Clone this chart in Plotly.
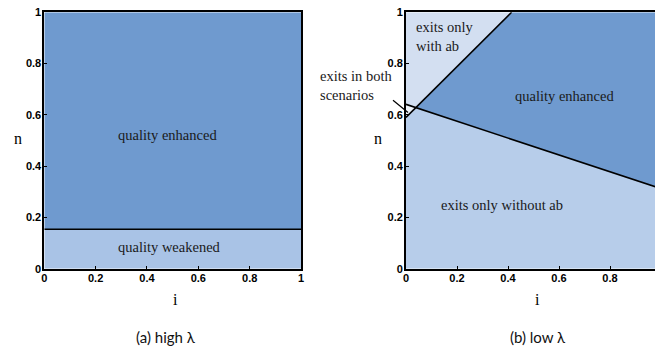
import numpy as np
import plotly.graph_objects as go

# ---- data ----
tick_vals = [0, 0.2, 0.4, 0.6, 0.8, 1]
tick_text = ["0", "0.2", "0.4", "0.6", "0.8", "1"]

# panel (a): horizontal boundary n = const
a_threshold_n = 0.154

# panel (b): two boundary lines
b_lineA_n_at_i0 = 0.590   # steep line, value of n at i = 0
b_lineA_i_at_n1 = 0.414   # steep line reaches n = 1 at this i
b_lineB_n_at_i0 = 0.641   # falling line, n at i = 0
b_lineB_n_at_i1 = 0.312   # falling line, n at i = 1

# ---- colours ----
C_DARK = "#6F9ACF"
C_LIGHT_A = "#A9C3E6"
C_LIGHT_B = "#B7CDEA"
C_TOP = "#D3DFF1"
C_BOTH = "#EEF3FA"

W, H = 655, 349
fig = go.Figure()

# ---- axes layout (pixel-derived domains) ----
y_dom = [1 - 268.7 / H, 1 - 12.3 / H]
xa_dom = [44.3 / W, 301.0 / W]
xb_dom = [406.0 / W, 1.0]
xb_max = (W - 406.0) / 255.0

def poly(xs, ys, color, xa, ya):
    fig.add_trace(go.Scatter(x=xs, y=ys, fill="toself", fillcolor=color, mode="lines",
                             line=dict(width=0, color=color), xaxis=xa, yaxis=ya,
                             hoverinfo="skip", showlegend=False))

def seg(xs, ys, xa, ya):
    fig.add_trace(go.Scatter(x=xs, y=ys, mode="lines", line=dict(color="black", width=1.6),
                             xaxis=xa, yaxis=ya, hoverinfo="skip", showlegend=False))

# panel (a)
t = a_threshold_n
poly([0, 1, 1, 0], [t, t, 1, 1], C_DARK, "x", "y")
poly([0, 1, 1, 0], [0, 0, t, t], C_LIGHT_A, "x", "y")
seg([0, 1], [t, t], "x", "y")

# panel (b)
kA = (1 - b_lineA_n_at_i0) / b_lineA_i_at_n1
kB = b_lineB_n_at_i1 - b_lineB_n_at_i0
lineA = lambda i: b_lineA_n_at_i0 + kA * i
lineB = lambda i: b_lineB_n_at_i0 + kB * i
i_x = (b_lineB_n_at_i0 - b_lineA_n_at_i0) / (kA - kB)
n_x = lineA(i_x)
poly([0, 1, 1, i_x, 0], [0, 0, lineB(1), n_x, b_lineA_n_at_i0], C_LIGHT_B, "x2", "y2")
poly([i_x, 1, 1, b_lineA_i_at_n1], [n_x, lineB(1), 1, 1], C_DARK, "x2", "y2")
poly([0, i_x, b_lineA_i_at_n1, 0], [b_lineB_n_at_i0, n_x, 1, 1], C_TOP, "x2", "y2")
poly([0, i_x, 0], [b_lineA_n_at_i0, n_x, b_lineB_n_at_i0], C_BOTH, "x2", "y2")
seg([0, b_lineA_i_at_n1], [b_lineA_n_at_i0, 1], "x2", "y2")
seg([0, 1], [b_lineB_n_at_i0, lineB(1)], "x2", "y2")

tickfont = dict(family="Liberation Sans", size=11, color="black", weight="bold")
common = dict(tickvals=tick_vals, ticktext=tick_text, ticks="inside", ticklen=3, tickwidth=1,
              tickcolor="black", showgrid=False, zeroline=False, showline=True,
              linecolor="black", linewidth=1.8, tickfont=tickfont, fixedrange=True,
              automargin=False)
xcommon = dict(ticklabelstandoff=-2, **common)
ycommon = dict(ticklabelstandoff=-1, **common)

fig.update_layout(
    width=W, height=H, margin=dict(l=0, r=0, t=0, b=0),
    paper_bgcolor="white", plot_bgcolor="white", showlegend=False,
    xaxis=dict(domain=xa_dom, range=[0, 1], mirror=True, anchor="y", **xcommon),
    yaxis=dict(domain=y_dom, range=[0, 1], mirror=True, anchor="x", **ycommon),
    xaxis2=dict(domain=xb_dom, range=[0, xb_max], mirror=True, anchor="y2", **xcommon),
    yaxis2=dict(domain=y_dom, range=[0, 1], mirror=False, anchor="x2", **ycommon),
)

def px(xp, yp):
    return xp / W, 1 - yp / H

afont = dict(family="Liberation Serif", size=14.5, color="#1a1a1a")
ann = [
    dict(x=0.48, y=0.521, xref="x", yref="y", text="quality enhanced"),
    dict(x=0.486, y=0.086, xref="x", yref="y", text="quality weakened"),
    dict(x=0.621, y=0.674, xref="x2", yref="y2", text="quality enhanced"),
    dict(x=0.376, y=0.248, xref="x2", yref="y2", text="exits only without ab"),
    dict(x=0.033, y=0.905, xref="x2", yref="y2", text="exits only<br>with ab",
         xanchor="left", align="left"),
]
for a in ann:
    a.setdefault("xanchor", "center")
    fig.add_annotation(showarrow=False, font=afont, yanchor="middle", **a)

bx, by = px(318, 86)
fig.add_annotation(x=bx, y=by, xref="paper", yref="paper", text="exits in both<br>scenarios",
                   xanchor="left", yanchor="middle", align="left", showarrow=False, font=afont)

# pointer line to the small triangle (tail offset given in pixels)
hx, hy = px(408, 112.5)
fig.add_annotation(x=hx, y=hy, xref="paper", yref="paper", ax=391.5 - 408, ay=99 - 112.5,
                   text="", showarrow=True, arrowhead=0,
                   arrowwidth=1.2, arrowcolor="black", standoff=0, startstandoff=0)

# axis titles (horizontal, as in the reference)
tfont = dict(family="Liberation Serif", size=16, color="black")
for (xp, yp, s) in [(175, 299, "i"), (537, 299, "i"), (18, 138, "n"), (378, 138, "n")]:
    x0, y0 = px(xp, yp)
    fig.add_annotation(x=x0, y=y0, xref="paper", yref="paper", text=s,
                       xanchor="center", yanchor="middle", showarrow=False, font=tfont)

cfont = dict(family="Lato", size=15, color="#111111")
for (xp, yp, s) in [(166, 337, "(a) high λ"), (538, 337, "(b) low λ")]:
    x0, y0 = px(xp, yp)
    fig.add_annotation(x=x0, y=y0, xref="paper", yref="paper", text=s,
                       xanchor="center", yanchor="middle", showarrow=False, font=cfont)

fig.write_html("out.html")
